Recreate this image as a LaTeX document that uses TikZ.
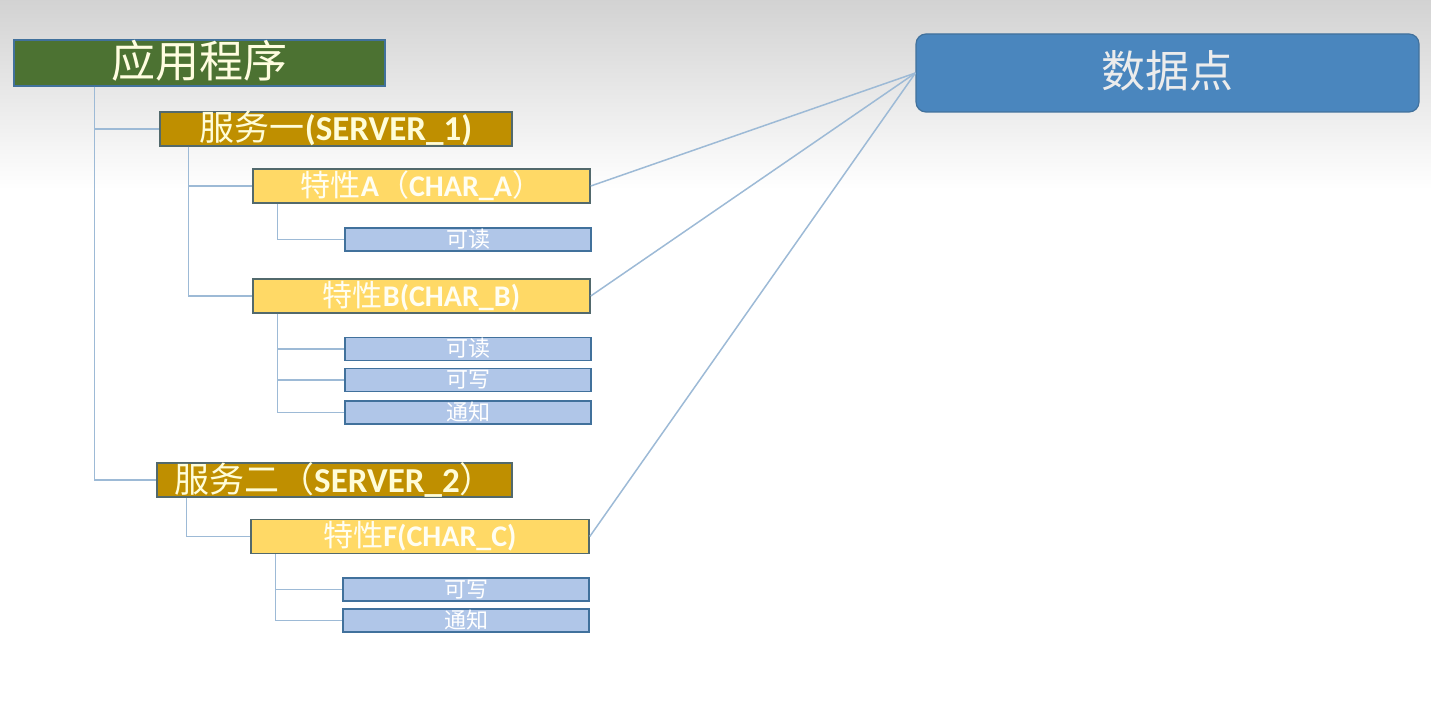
\documentclass[tikz,border=0pt]{standalone}
\usepackage{fontspec}
\setmainfont{Carlito}
\newfontfamily\cjk{Noto Sans CJK SC}
\definecolor{appgreen}{HTML}{4C7232}
\definecolor{servgold}{HTML}{BF8F00}
\definecolor{charyellow}{HTML}{FFD966}
\definecolor{propblue}{HTML}{B0C6E8}
\definecolor{datablue}{HTML}{4A86BE}
\definecolor{boxedge}{HTML}{41719C}
\definecolor{charedge}{HTML}{52696C}
\definecolor{treeline}{HTML}{9DBAD6}
\newcommand\zh[1]{{\cjk #1}}
\newcommand\en[1]{\textbf{#1}}
\tikzset{
  every node/.style={inner sep=0pt,align=center},
  appbox/.style={draw=boxedge,line width=1.2pt,fill=appgreen,text=white!88!yellow,
    minimum width=371pt,minimum height=46pt,font=\cjk\fontsize{44}{44}\selectfont,
    text height=35pt,text depth=5pt},
  servbox/.style={draw=charedge,line width=1.2pt,fill=servgold,text=white!85!yellow,
    minimum height=34pt,font=\fontsize{35}{35}\selectfont,
    text height=28pt,text depth=4pt},
  charbox/.style={draw=charedge,line width=1.5pt,fill=charyellow,text=white!95!yellow,
    minimum width=337pt,minimum height=34pt,font=\fontsize{30}{30}\selectfont,
    text height=24pt,text depth=3.6pt},
  propbox/.style={draw=boxedge,line width=1.5pt,fill=propblue,text=white,
    minimum width=246pt,minimum height=23pt,font=\cjk\fontsize{22}{22}\selectfont,
    text height=17.6pt,text depth=2.6pt},
  databox/.style={draw=boxedge,line width=1.2pt,fill=datablue,text=white!85!gray,
    rounded corners=10pt,minimum width=503pt,minimum height=78pt,
    font=\cjk\fontsize{44}{44}\selectfont,text height=35pt,text depth=5pt},
  tree/.style={draw=treeline,line width=1.2pt},
  link/.style={draw=treeline,line width=1.5pt}
}
\begin{document}
\begin{tikzpicture}[x=1pt,y=-1pt]
        \useasboundingbox (0,0) rectangle (1431,714);%%
        \shade[top color=gray!35,bottom color=white] (0,0) rectangle (1431,190);%%
        \node[appbox] (app) at (199.5,63) {应用程序}; %%
        \node[servbox,minimum width=352pt] (s1) at (336,129) {\zh{服务一}\en{(SERVER\_1)}}; %%
        \node[charbox] (cA) at (421.5,186) {\zh{特性}\en{A}\zh{（}\en{CHAR\_A}\zh{）}}; %%
        \node[propbox] (pA1) at (468,239.5) {可读}; %%
        \node[charbox] (cB) at (421.5,296) {\zh{特性}\en{B(CHAR\_B)}}; %%
        \node[propbox] (pB1) at (468,349) {可读}; %%
        \node[propbox] (pB2) at (468,380) {可写}; %%
        \node[propbox] (pB3) at (468,412.5) {通知}; %%
        \node[servbox,minimum width=355pt] (s2) at (334.5,480) {\zh{服务二（}\en{SERVER\_2}\zh{）}}; %%
        \node[charbox,minimum width=338pt] (cC) at (420,536.5) {\zh{特性}\en{F(CHAR\_C)}}; %%
        \node[propbox] (pC1) at (466,589.5) {可写}; %%
        \node[propbox] (pC2) at (466,620.5) {通知}; %%
        \node[databox] (dp) at (1167.5,73) {数据点}; %%
        % tree
        \draw[tree] ([xshift=81pt]app.south west) |- (s1.west); %%
        \draw[tree] ([xshift=81pt]app.south west) |- (s2.west); %%
        \draw[tree] ([xshift=29pt]s1.south west) |- (cA.west); %%
        \draw[tree] ([xshift=29pt]s1.south west) |- (cB.west); %%
        \draw[tree] ([xshift=25pt]cA.south west) |- (pA1.west); %%
        \draw[tree] ([xshift=25pt]cB.south west) |- (pB1.west); %%
        \draw[tree] ([xshift=25pt]cB.south west) |- (pB2.west); %%
        \draw[tree] ([xshift=25pt]cB.south west) |- (pB3.west); %%
        \draw[tree] ([xshift=30pt]s2.south west) |- (cC.west); %%
        \draw[tree] ([xshift=25pt]cC.south west) |- (pC1.west); %%
        \draw[tree] ([xshift=25pt]cC.south west) |- (pC2.west); %%
        % links
        \draw[link] (cA.east) -- (dp.west); %%
        \draw[link] (cB.east) -- (dp.west); %%
        \draw[link] (cC.east) -- (dp.west); %%
\end{tikzpicture}
\end{document}
